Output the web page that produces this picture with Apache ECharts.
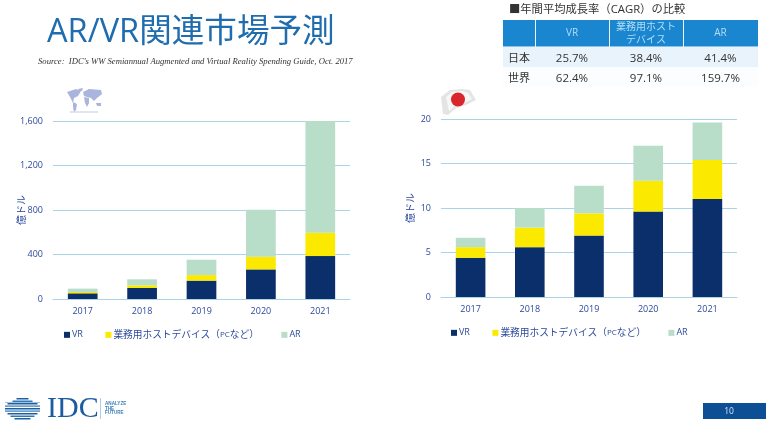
<!DOCTYPE html>
<html>
<head>
<meta charset="utf-8">
<style>html,body{margin:0;padding:0;background:#fff}#c{width:766px;height:422px}</style>
<script src="https://cdn.jsdelivr.net/npm/echarts@6/dist/echarts.min.js"></script>
</head>
<body>
<div id="c"></div>
<script>
const categories = ['2017','2018','2019','2020','2021'];
const worldVR = [51,99,165,266,386];
const worldHost = [12,24,50,114,209];
const worldAR = [30,54,138,422,1005];
const japanVR = [4.4,5.6,6.9,9.6,11.0];
const japanHost = [1.2,2.2,2.5,3.45,4.4];
const japanAR = [1.05,2.2,3.1,3.95,4.2];
const seriesNames = ['VR','業務用ホストデバイス（PCなど）','AR'];
const tableHead = ['','VR','業務用ホスト\nデバイス','AR'];
const rowJapan = ['日本','25.7%','38.4%','41.4%'];
const rowWorld = ['世界','62.4%','97.1%','159.7%'];

const JP = '"Open Sans","Noto Sans CJK JP",sans-serif';
const colors = ['#0b2f6b','#fbea00','#b8ddc8'];
const labelColor = '#2c4a9c';
const gridColor = '#a9d4e8';

const grids = [
  {left:53,right:416,top:121,bottom:123},
  {left:441,right:29,top:119,bottom:125}
];
function xAxis(i){return {type:'category',gridIndex:i,data:categories,
  axisTick:{show:false},axisLine:{lineStyle:{color:gridColor,width:1}},
  axisLabel:{color:labelColor,fontSize:9,margin:8,fontFamily:JP}};}
function yAxis(i,max,step,gap){return {type:'value',gridIndex:i,min:0,max:max,interval:step,
  name:'億ドル',nameLocation:'middle',nameGap:gap,nameRotate:90,nameMoveOverlap:false,
  nameTextStyle:{color:labelColor,fontSize:10,fontFamily:JP},
  axisLine:{show:false},axisTick:{show:false},
  splitLine:{lineStyle:{color:gridColor,width:1}},
  axisLabel:{color:labelColor,fontSize:9,margin:10,fontFamily:JP,
    formatter:v=>v.toLocaleString('en-US')}};}
function bars(i,arrs,stack){return arrs.map((d,k)=>({type:'bar',name:seriesNames[k],xAxisIndex:i,yAxisIndex:i,
  stack:stack,data:d,barWidth:'50%',itemStyle:{color:colors[k]},silent:true,animation:false}));}
function legend(left,top){return {left:left,top:top,itemWidth:6,itemHeight:6,itemGap:22.5,icon:'rect',
  selectedMode:false,data:seriesNames,padding:0,
  formatter:n=>n==='VR'||n==='AR'?'{v|'+n+'}':n.replace('PC','{s|PC}'),
  textStyle:{color:labelColor,fontFamily:JP,fontSize:9.7,padding:[0,0,0,-3],
    rich:{v:{fontSize:9,color:labelColor,fontFamily:JP},s:{fontSize:8,color:labelColor,fontFamily:JP}}}};}

const g = [];
function txt(x,y,t,o){g.push({type:'text',silent:true,x:x,y:y,style:Object.assign({text:t,fontFamily:JP,verticalAlign:'middle',align:'left'},o)});}
function rect(x,y,w,h,fill){g.push({type:'rect',silent:true,shape:{x:x,y:y,width:w,height:h},style:{fill:fill}});}

txt(47,33,'AR/VR関連市場予測',{fill:'#1f6cae',fontSize:32.6});
txt(38,62,"Source:  IDC's WW Semiannual Augmented and Virtual Reality Spending Guide, Oct. 2017",
  {fill:'#333',fontSize:8.65,fontStyle:'italic',fontFamily:'"Liberation Serif",serif'});

// table
txt(509,10,'■年間平均成長率（CAGR）の比較',{fill:'#333',fontSize:11.3});
const colX = [503,535,609,683,758];
rect(503,20,255,26.5,'#1a86cf');
rect(503,47,255,20,'#e9f3fb');
rect(503,67,255,20,'#fbfdff');
[535,609,683].forEach(x=>rect(x,20,1,27,'#eaf4fb'));
[0,1,2,3].forEach(i=>{
  const cx=(colX[i]+colX[i+1])/2;
  if(tableHead[i]) txt(cx,33.5,tableHead[i],{fill:'#b5def8',fontSize:10,align:'center',lineHeight:12.5});
  txt(i===0?508:cx,58.5,rowJapan[i],{fill:'#333',fontSize:i===0?11:11.5,align:i===0?'left':'center'});
  txt(i===0?508:cx,78.5,rowWorld[i],{fill:'#333',fontSize:i===0?11:11.5,align:i===0?'left':'center'});
});

// world map icon
[
 [[67,92],[76,89],[81,91],[78,96],[74,98],[73,103],[70,97]],
 [[73,102],[77,104],[76,110],[74,112],[73,107]],
 [[78,89],[83,88],[82,91],[79,91]],
 [[83,92],[89,89],[101,90],[102,94],[97,98],[94,101],[91,98],[87,97],[84,96]],
 [[84,97],[89,98],[89,103],[87,107],[85,103]],
 [[96,103],[101,103],[101,106],[97,106]]
].forEach(p=>g.push({type:'polygon',silent:true,shape:{points:p},style:{fill:'#aab5dd'}}));
g.push({type:'line',silent:true,shape:{x1:70,y1:112,x2:98,y2:112},style:{stroke:'#c3cbe6',lineWidth:1}});

// flag
g.push({type:'polygon',silent:true,shape:{points:[[441,97],[450,90],[462,89],[470,90],[476,100],[466,105],[456,108],[448,115],[443,114]]},style:{fill:'#e4e4e4'}});
g.push({type:'polygon',silent:true,shape:{points:[[446,97],[452,92],[462,91],[468,93],[472,99],[464,103],[455,106],[449,111]]},style:{fill:'#f7f7f7'}});
g.push({type:'circle',silent:true,shape:{cx:458,cy:99.5,r:7},style:{fill:'#d9252b'}});

// IDC logo
[[398,6],[400.5,10],[403,15],[405.5,17.5],[408,17.5],[410.5,17.5],[413,15],[415.5,12],[418,8]].forEach((s,i)=>{
  rect(22.5-s[1],s[0],s[1]*2,1.5,i%2?'#2f78b5':'#1d5f9f');
});
rect(5,402,35,.8,'#7fb0d6');rect(5,406,35,.8,'#7fb0d6');rect(5,411,35,.8,'#7fb0d6');
txt(47,409,'IDC',{fill:'#1b5ca0',fontSize:30,fontFamily:'"Liberation Serif",serif'});
rect(100,398,.8,21,'#9dbfdc');
txt(105,403.5,'ANALYZE',{fill:'#3b7fb9',fontSize:4.6,fontWeight:'bold',fontFamily:'"Liberation Sans",sans-serif'});
txt(105,408.5,'THE',{fill:'#3b7fb9',fontSize:4.6,fontWeight:'bold',fontFamily:'"Liberation Sans",sans-serif'});
txt(105,413,'FUTURE',{fill:'#3b7fb9',fontSize:4.6,fontWeight:'bold',fontFamily:'"Liberation Sans",sans-serif'});

// page number
rect(703,403,63,16,'#0d4f94');
txt(729,411.5,'10',{fill:'#cfe3f5',fontSize:8.5,align:'center'});

echarts.init(document.getElementById('c'),null,{renderer:'canvas'}).setOption({
  animation:false,backgroundColor:'#fff',
  grid:grids,
  xAxis:[xAxis(0),xAxis(1)],
  yAxis:[yAxis(0,1600,400,26),yAxis(1,20,5,25)],
  legend:[legend(64,330),legend(451,328)],
  series:[...bars(0,[worldVR,worldHost,worldAR],'w'),...bars(1,[japanVR,japanHost,japanAR],'j')],
  graphic:g
});
</script>
</body>
</html>
